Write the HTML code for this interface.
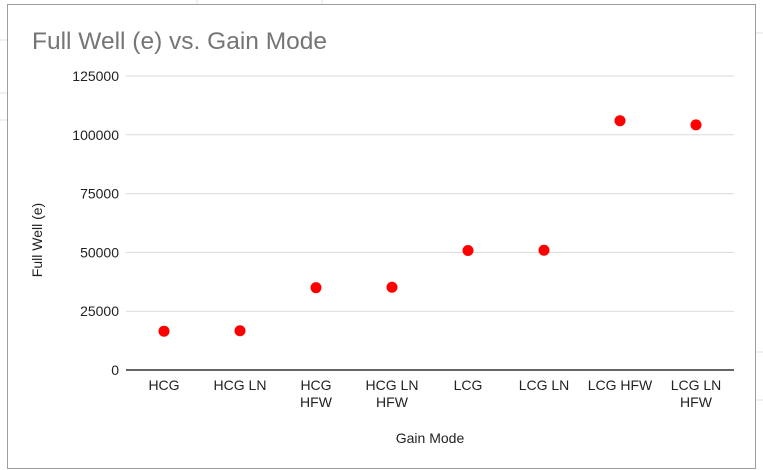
<!DOCTYPE html>
<html><head><meta charset="utf-8"><style>
body{margin:0;background:#fff;font-family:"Liberation Sans",Arial,sans-serif}
svg{display:block}
</style></head><body>
<svg width="763" height="470" font-family="Liberation Sans, Arial, sans-serif">
<g stroke="#e2e2e2" stroke-width="1">
<line x1="197" y1="0" x2="197" y2="4"/><line x1="322" y1="0" x2="322" y2="4"/>
<line x1="0" y1="40" x2="7" y2="40"/><line x1="0" y1="93" x2="7" y2="93"/>
<line x1="0" y1="120" x2="7" y2="120"/><line x1="756" y1="33" x2="763" y2="33"/>
<line x1="756" y1="352" x2="763" y2="352"/><line x1="756" y1="400" x2="763" y2="400"/>
</g>
<rect x="7.5" y="4.5" width="748" height="464" fill="#fff" stroke="#9e9e9e"/>
<text x="32" y="49" font-size="24.5" fill="#757575">Full Well (e) vs. Gain Mode</text>
<g id="grid"></g><g id="ticks"></g><g id="xl"></g><g id="pts"></g>
<text transform="translate(42,240) rotate(-90)" text-anchor="middle" font-size="14" fill="#222">Full Well (e)</text>
<text x="430" y="443" text-anchor="middle" font-size="14" fill="#222">Gain Mode</text>
</svg>
<script>
const categories=[["HCG"],["HCG LN"],["HCG","HFW"],["HCG LN","HFW"],["LCG"],["LCG LN"],["LCG HFW"],["LCG LN","HFW"]];
const values=[16500,16700,35000,35200,50800,50900,106000,104200];
const yTicks=[0,25000,50000,75000,100000,125000];
const NS="http://www.w3.org/2000/svg";
const left=126,right=734,y0=370,yTop=76,yMax=125000;
const band=(right-left)/categories.length;
const xs=i=>left+band*(i+0.5);
const ys=v=>y0-(v/yMax)*(y0-yTop);
function mk(t,a,p){const e=document.createElementNS(NS,t);for(const k in a)e.setAttribute(k,a[k]);p.appendChild(e);return e;}
const g=document.getElementById('grid'),tk=document.getElementById('ticks'),xl=document.getElementById('xl'),pts=document.getElementById('pts');
yTicks.forEach(v=>{
 const l=mk('line',{x1:left,x2:right,y1:ys(v),y2:ys(v),stroke:v===0?'#333':'#d9d9d9','stroke-width':v===0?1.5:1},g);
 
 
 const t=mk('text',{x:119,y:ys(v)+5,'text-anchor':'end','font-size':14,fill:'#222'},tk);
 t.textContent=v;
 
 
});
categories.forEach((c,i)=>{
 const t=mk('text',{x:xs(i),y:390,'text-anchor':'middle','font-size':14,fill:'#222'},xl);
 
 
 c.forEach((s,j)=>{const ts=mk('tspan',{x:xs(i),dy:j?17:0},t);ts.textContent=s;});
});
values.forEach((v,i)=>{
 const p=mk('circle',{cx:xs(i),cy:ys(v),r:5.5,fill:'#ff0000'},pts);
 
 
});
</script>
</body></html>
